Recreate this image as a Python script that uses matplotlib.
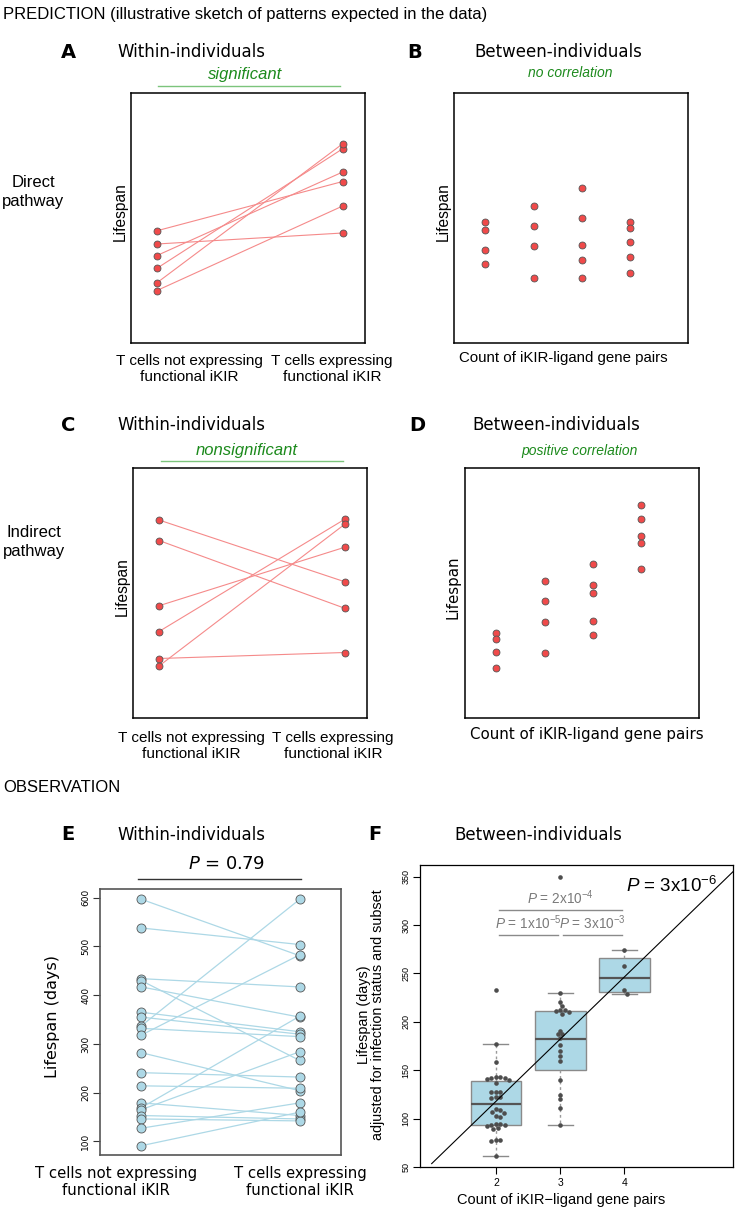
import numpy as np
import matplotlib
matplotlib.use('Agg')
from matplotlib import pyplot as plt
from matplotlib.lines import Line2D

plt.rcParams['font.family'] = ['Liberation Sans', 'DejaVu Sans']
plt.rcParams['mathtext.fontset'] = 'custom'
plt.rcParams['mathtext.rm'] = 'Liberation Sans'
plt.rcParams['mathtext.it'] = 'Liberation Sans:italic'

# ---- data (sketch panels in arbitrary units 0-10) ----
a_not = [4.49, 3.96, 3.50, 2.99, 2.41, 2.10]
a_expr = [6.46, 4.40, 6.84, 7.77, 7.97, 5.48]
b_groups = [[4.84, 4.51, 3.73, 3.15],
            [5.49, 4.68, 3.87, 2.61],
            [6.19, 5.01, 3.91, 3.31, 2.60],
            [4.84, 4.61, 4.05, 3.45, 2.79]]
c_not = [7.92, 7.10, 4.49, 3.46, 2.38, 2.08]
c_expr = [5.45, 4.39, 6.83, 7.95, 2.62, 7.75]
d_groups = [[3.40, 3.16, 2.64, 2.02],
            [5.49, 4.69, 3.86, 2.62],
            [6.18, 5.31, 5.01, 3.90, 3.32],
            [8.54, 7.95, 7.30, 6.99, 5.97]]

# observed lifespans (days), paired
e_not = [597, 538, 434, 430, 417, 365, 355, 337, 332, 318, 282, 241, 214,
         179, 169, 165, 153, 146, 127, 91]
e_expr = [481, 504, 417, 266, 355, 325, 320, 597, 315, 483, 204, 232, 209,
          153, 357, 284, 146, 142, 179, 160]
e_ticks = [100, 200, 300, 400, 500, 600]

# adjusted lifespan by count of iKIR-ligand gene pairs
f_counts = [2, 3, 4]
f_values = [
    [232.8, 176.6, 158, 143, 143, 142, 142, 141, 140, 137, 128, 128, 127,
     122, 122, 121, 110, 109, 107, 106, 103, 102, 94, 94, 93, 93, 92, 90, 89,
     78, 78, 77, 61.4],
    [350, 230, 220, 216, 212, 212, 211, 210, 208, 191, 187, 187, 183, 176,
     170, 165, 160, 140, 124.5, 120, 111, 93.8],
    [273.8, 257.6, 232.4, 229],
]
f_q1 = [93.8, 150, 230.7]
f_med = [115.2, 182.4, 245.2]
f_q3 = [139.3, 211, 265.5]
f_lo = [61.4, 93.8, 229]
f_hi = [176.6, 230, 273.8]
f_fit = (-10.8, 64.3)  # intercept, slope
f_ticks = [50, 100, 150, 200, 250, 300, 350]
f_tests = [(2, 4, r'$P$ = 2x10$^{-4}$', 315.5),
           (2, 3, r'$P$ = 1x10$^{-5}$', 289.7),
           (3, 4, r'$P$ = 3x10$^{-3}$', 289.7)]

RED = '#f04a4a'
RED_LINE = '#f58a8a'
BLUE = '#add8e6'
GREEN = '#1c8a1c'
GREEN_LINE = '#7cc47c'
DV = 'DejaVu Sans'

W, H = 738, 1213
fig = plt.figure(figsize=(W / 100, H / 100), dpi=100)


def add_ax(x0, y0, x1, y1):
    return fig.add_axes([x0 / W, 1 - y1 / H, (x1 - x0) / W, (y1 - y0) / H])


def ftext(x, y, s, **kw):
    kw.setdefault('ha', 'center')
    kw.setdefault('va', 'center')
    fig.text(x / W, 1 - y / H, s, **kw)


def fline(x0, x1, y, **kw):
    fig.add_artist(Line2D([x0 / W, x1 / W], [1 - y / H, 1 - y / H], **kw))


def sketch_paired(ax, before, after):
    for b, a in zip(before, after):
        ax.plot([1, 2], [b, a], color=RED_LINE, lw=0.8, zorder=1)
    ax.plot([1] * len(before), before, 'o', ms=5, mfc=RED, mec='#555555', mew=0.6, zorder=2)
    ax.plot([2] * len(after), after, 'o', ms=5, mfc=RED, mec='#555555', mew=0.6, zorder=2)
    ax.set_xlim(0.86, 2.12)
    ax.set_ylim(0, 10)
    ax.set_xticks([])
    ax.set_yticks([])
    for s in ax.spines.values():
        s.set_linewidth(1.1)


def sketch_groups(ax, groups):
    for i, g in enumerate(groups):
        ax.plot([i + 1] * len(g), g, 'o', ms=5, mfc=RED, mec='#555555', mew=0.6)
    ax.set_xlim(0.35, 5.2)
    ax.set_ylim(0, 10)
    ax.set_xticks([])
    ax.set_yticks([])
    for s in ax.spines.values():
        s.set_linewidth(1.1)


# ---- header texts ----
ftext(3, 15, 'PREDICTION (illustrative sketch of patterns expected in the data)',
      ha='left', fontsize=12)
ftext(3, 787, 'OBSERVATION', ha='left', fontsize=12)
ftext(33, 192, 'Direct\npathway', fontsize=12, linespacing=1.4)
ftext(34, 542, 'Indirect\npathway', fontsize=12, linespacing=1.3)

for lx, ly, lab in [(68, 52, 'A'), (415, 52, 'B'), (68, 425, 'C'),
                    (417, 425, 'D'), (68, 835, 'E'), (375, 835, 'F')]:
    ftext(lx, ly, lab, fontsize=14, fontweight='heavy', family=DV)

for tx, ty, t in [(191, 52, 'Within-individuals'), (558, 52, 'Between-individuals'),
                  (191, 425, 'Within-individuals'), (556, 425, 'Between-individuals'),
                  (191, 835, 'Within-individuals'), (538, 835, 'Between-individuals')]:
    ftext(tx, ty, t, fontsize=12, family=DV)

ftext(245, 74, 'significant', color=GREEN, style='italic', fontsize=12)
fline(158, 340, 86, color=GREEN_LINE, lw=1)
ftext(570, 73, 'no correlation', color=GREEN, style='italic', fontsize=10)
ftext(247, 450, 'nonsignificant', color=GREEN, style='italic', fontsize=12)
fline(161, 343, 461, color=GREEN_LINE, lw=1)
ftext(580, 451, 'positive correlation', color=GREEN, style='italic', fontsize=10)

# ---- A ----
ax = add_ax(131, 93, 365, 343)
sketch_paired(ax, a_not, a_expr)
ftext(120, 212, 'Lifespan', rotation=90, fontsize=11.2)
ftext(189, 369, 'T cells not expressing\nfunctional iKIR', fontsize=11, linespacing=1.15)
ftext(332, 369, 'T cells expressing\nfunctional iKIR', fontsize=11, linespacing=1.15)

# ---- B ----
ax = add_ax(454, 93, 688, 343)
sketch_groups(ax, b_groups)
ftext(443, 212, 'Lifespan', rotation=90, fontsize=11.2)
ftext(563, 358, 'Count of iKIR-ligand gene pairs', fontsize=10.8)

# ---- C ----
ax = add_ax(133, 468, 367, 718)
sketch_paired(ax, c_not, c_expr)
ftext(122, 587, 'Lifespan', rotation=90, fontsize=11.2)
ftext(191, 746, 'T cells not expressing\nfunctional iKIR', fontsize=11, linespacing=1.15)
ftext(333, 746, 'T cells expressing\nfunctional iKIR', fontsize=11, linespacing=1.15)

# ---- D ----
ax = add_ax(465, 468, 699, 718)
sketch_groups(ax, d_groups)
ftext(453, 587, 'Lifespan', rotation=90, fontsize=10.8, family=DV)
ftext(587, 734, 'Count of iKIR-ligand gene pairs', fontsize=10.8, family=DV)

# ---- E ----
ax = add_ax(100, 889, 341, 1155)
for b, a in zip(e_not, e_expr):
    ax.plot([1, 2], [b, a], color=BLUE, lw=0.9, zorder=1)
ax.plot([1] * len(e_not), e_not, 'o', ms=6.5, mfc=BLUE, mec='#555555', mew=0.6, zorder=2)
ax.plot([2] * len(e_expr), e_expr, 'o', ms=6.5, mfc=BLUE, mec='#555555', mew=0.6, zorder=2)
ax.set_xlim(0.74, 2.26)
ax.set_ylim(72, 618)
ax.set_xticks([])
ax.set_yticks(e_ticks)
ax.tick_params(axis='y', direction='out', length=5, width=0.8, labelsize=6.5,
               pad=2, color='#333333')
plt.setp(ax.get_yticklabels(), rotation=90, va='center', ha='right', family=DV)
for s in ax.spines.values():
    s.set_color('#555555')
    s.set_linewidth(1.2)
ftext(53, 1017, 'Lifespan (days)', rotation=90, fontsize=11.5, family=DV)
ftext(226, 864, r'$P$ = 0.79', fontsize=13, family=DV, math_fontfamily='dejavusans')
fline(138, 301, 879, color='#333333', lw=1)
ftext(116, 1182, 'T cells not expressing\nfunctional iKIR', fontsize=10.7,
      family=DV, linespacing=1.2)
ftext(300, 1182, 'T cells expressing\nfunctional iKIR', fontsize=10.7,
      family=DV, linespacing=1.2)

# ---- F ----
ax = add_ax(420, 865, 733, 1167)
ax.set_xlim(0.818, 5.69)
ax.set_ylim(50, 362)
stats = [dict(med=m, q1=a, q3=b, whislo=lo, whishi=hi, fliers=[])
         for m, a, b, lo, hi in zip(f_med, f_q1, f_q3, f_lo, f_hi)]
ax.bxp(stats, positions=f_counts, widths=0.79, patch_artist=True, showfliers=False,
       capwidths=0.39, manage_ticks=False,
       boxprops=dict(facecolor=BLUE, edgecolor='#8a8a8a', lw=1),
       medianprops=dict(color='#555555', lw=1.6),
       whiskerprops=dict(color='#9a9a9a', ls=(0, (2, 2)), lw=1),
       capprops=dict(color='#8a8a8a', lw=1))


def swarm(ax, x, ys, d):
    pts = ax.transData.transform(np.column_stack([np.full(len(ys), x), ys]))
    placed = []
    out = pts.copy()
    offsets = [0.0]
    for k in range(1, 60):
        offsets += [k * 0.5, -k * 0.5]
    for i in np.argsort(-pts[:, 1]):
        px, py = pts[i]
        for off in offsets:
            cx = px + off
            if all((cx - qx) ** 2 + (py - qy) ** 2 >= d * d for qx, qy in placed):
                break
        placed.append((cx, py))
        out[i] = (cx, py)
    return ax.transData.inverted().transform(out)


for c, ys in zip(f_counts, f_values):
    xy = swarm(ax, c, ys, 4.2)
    ax.plot(xy[:, 0], xy[:, 1], 'o', ms=3.3, color='#4d4d4d', mew=0, zorder=4)

xs = np.array([1, 6])
ax.plot(xs, f_fit[0] + f_fit[1] * xs, color='black', lw=0.8, zorder=5)

for g1, g2, lab, yb in f_tests:
    ax.plot([g1 + 0.04, g2 - 0.04], [yb, yb], color='#8a8a8a', lw=1)
    ax.text((g1 + g2) / 2, yb + 3, lab, ha='center', va='bottom', fontsize=9.8,
            color='#7a7a7a')
ax.text(5.44, 334.4, r'$P$ = 3x10$^{-6}$', ha='right', va='baseline', fontsize=13.5)

ax.set_xticks(f_counts)
ax.set_yticks(f_ticks)
ax.tick_params(axis='x', direction='out', length=5, width=0.8, labelsize=7.5, pad=3)
ax.tick_params(axis='y', direction='out', length=5, width=0.8, labelsize=6.5, pad=2)
plt.setp(ax.get_yticklabels(), rotation=90, va='center', ha='right')
for s in ax.spines.values():
    s.set_linewidth(0.9)
ftext(371, 1015, 'Lifespan (days)\nadjusted for infection status and subset',
      rotation=90, fontsize=10.4, linespacing=1.0)
ftext(561, 1200, 'Count of iKIR\u2212ligand gene pairs', fontsize=10.5)

fig.savefig('out.png', dpi=100)
